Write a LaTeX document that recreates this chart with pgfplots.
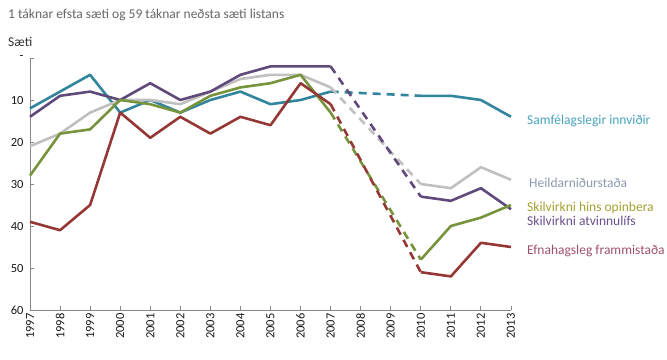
\documentclass[border=0pt]{standalone}
\usepackage{pgfplots}
\pgfplotsset{compat=1.18}
\usepackage{fontspec}
\setmainfont{Carlito}
\definecolor{cteal}{HTML}{31859C}
\definecolor{cpurple}{HTML}{604A7B}
\definecolor{cgray}{HTML}{C0C0C0}
\definecolor{cgreen}{HTML}{77933C}
\definecolor{cred}{HTML}{953735}
\definecolor{lteal}{HTML}{4AA3C0}
\definecolor{lgray}{HTML}{8C9AAE}
\definecolor{lgreen}{HTML}{A5A030}
\definecolor{lpurple}{HTML}{6A4F8C}
\definecolor{lred}{HTML}{A0506A}
\definecolor{axgray}{HTML}{868686}
\begin{document}
\begin{tikzpicture}
\path[use as bounding box] (-30bp,-50bp) rectangle (637bp,310bp);
\begin{axis}[
  at={(0bp,0bp)}, anchor=south west,
  scale only axis, width=481bp, height=252bp,
  xmin=1997, xmax=2013, ymin=0, ymax=60,
  y dir=reverse,
  axis x line*=bottom, axis y line*=left,
  axis line style={axgray, line width=0.8bp, -},
  xtick={1997,...,2013},
  ytick={0,10,...,60},
  yticklabels={-,10,20,30,40,50,60},
  /pgf/number format/assume math mode=true,
  /pgf/number format/1000 sep={},
  ticklabel style={font=\fontsize{12.5bp}{14bp}\selectfont, text=black!90},
  x tick label style={rotate=90, anchor=east},
  y tick label style={xshift=-3bp},
  tick align=inside, major tick length=4bp,
  tick style={axgray, line width=0.8bp},
  unbounded coords=jump,
  every axis plot/.append style={line width=2.6bp, line join=round, no markers},
  clip=false,
]
% Samfelagslegir innvidir
\addplot[cteal] coordinates {(1997,12) (1998,8) (1999,4) (2000,13) (2001,10) (2002,13) (2003,10) (2004,8) (2005,11) (2006,10) (2007,8) (2008,nan) (2010,9) (2011,9) (2012,10) (2013,14)};
\addplot[cteal, dash pattern=on 8bp off 6bp] coordinates {(2007,8) (2010,9)};
% Heildarnidurstada
\addplot[cgray] coordinates {(1997,21) (1998,18) (1999,13) (2000,10) (2001,10) (2002,11) (2003,8) (2004,5) (2005,4) (2006,4) (2007,7) (2008,nan) (2010,30) (2011,31) (2012,26) (2013,29)};
\addplot[cgray, dash pattern=on 8bp off 6bp] coordinates {(2007,7) (2010,30)};
% Skilvirkni atvinnulifs
\addplot[cpurple] coordinates {(1997,14) (1998,9) (1999,8) (2000,10) (2001,6) (2002,10) (2003,8) (2004,4) (2005,2) (2006,2) (2007,2) (2008,nan) (2010,33) (2011,34) (2012,31) (2013,36)};
\addplot[cpurple, dash pattern=on 8bp off 6bp] coordinates {(2007,2) (2010,33)};
% Skilvirkni hins opinbera
\addplot[cgreen] coordinates {(1997,28) (1998,18) (1999,17) (2000,10) (2001,11) (2002,13) (2003,9) (2004,7) (2005,6) (2006,4) (2007,13) (2008,nan) (2010,48) (2011,40) (2012,38) (2013,35)};
\addplot[cgreen, dash pattern=on 8bp off 6bp] coordinates {(2007,13) (2010,48)};
% Efnahagsleg frammistada
\addplot[cred] coordinates {(1997,39) (1998,41) (1999,35) (2000,13) (2001,19) (2002,14) (2003,18) (2004,14) (2005,16) (2006,6) (2007,11) (2008,nan) (2010,51) (2011,52) (2012,44) (2013,45)};
\addplot[cred, dash pattern=on 8bp off 6bp] coordinates {(2007,11) (2010,51)};
\end{axis}
\begin{scope}[every node/.style={font=\fontsize{13.5bp}{15bp}\selectfont, anchor=west, inner sep=0pt}]
\node[text=black!60] at (-22bp,295bp) {1 táknar efsta sæti og 59 táknar neðsta sæti listans};
\node[text=black!80] at (-22bp,268bp) {Sæti};
\node[text=lteal] at (497bp,189bp) {Samfélagslegir innviðir};
\node[text=lgray] at (499bp,127bp) {Heildarniðurstaða};
\node[text=lgreen] at (497bp,102bp) {Skilvirkni hins opinbera};
\node[text=lpurple] at (497bp,89bp) {Skilvirkni atvinnulífs};
\node[text=lred] at (497bp,59bp) {Efnahagsleg frammistaða};
\end{scope}
\end{tikzpicture}
\end{document}
